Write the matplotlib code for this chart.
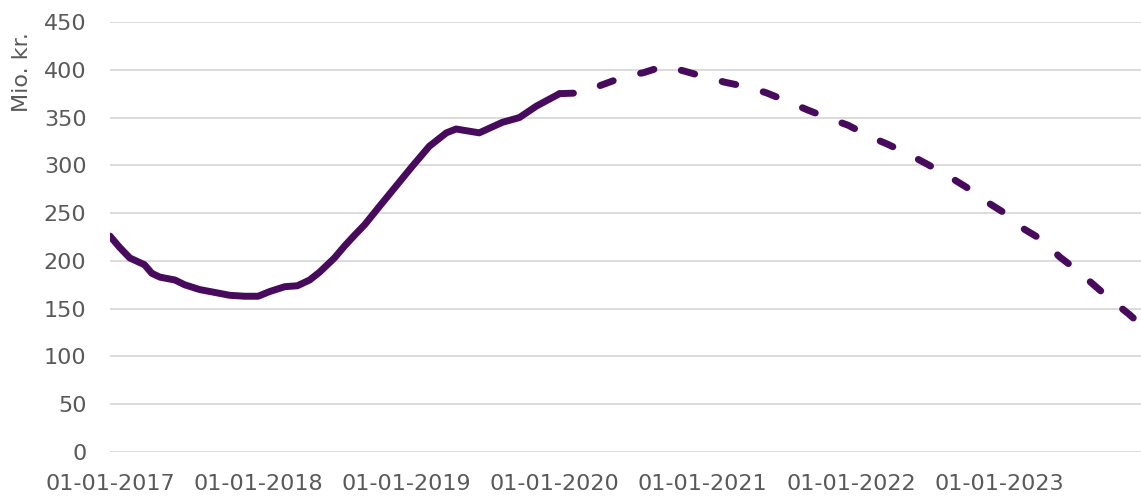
import numpy as np
import pandas as pd
import matplotlib.pyplot as plt
import matplotlib.dates as mdates


# actual (solid)
act_dates = ['2017-01-01', '2017-01-25', '2017-02-19', '2017-03-27', '2017-04-14',
             '2017-05-04', '2017-06-10', '2017-07-04', '2017-08-10', '2017-09-16',
             '2017-10-23', '2017-11-29', '2018-01-01', '2018-01-30', '2018-03-08',
             '2018-04-08', '2018-05-08', '2018-06-01', '2018-07-08', '2018-08-03',
             '2018-08-27', '2018-09-21', '2018-10-27', '2019-01-16', '2019-02-27',
             '2019-04-10', '2019-05-04', '2019-06-30', '2019-08-26', '2019-10-07',
             '2019-11-18', '2020-01-14']
act_vals = [226, 214, 203, 196, 187, 183, 180, 175, 170, 167,
            164, 163, 163, 168, 173, 174, 180, 188, 203, 216,
            227, 238, 257, 299, 320, 334, 338, 334, 345, 350,
            362, 375]

# forecast (dashed)
fc_dates = ['2020-01-14', '2020-03-20', '2020-04-20', '2020-06-23', '2020-08-08',
            '2020-09-29', '2020-11-13', '2021-01-11', '2021-02-24', '2021-04-21',
            '2021-06-06', '2021-08-03', '2021-09-16', '2021-11-09', '2021-12-25',
            '2022-02-17', '2022-04-02', '2022-05-26', '2022-07-09', '2022-09-01',
            '2022-10-13', '2022-12-01', '2023-01-15', '2023-03-05', '2023-04-17',
            '2023-05-31', '2023-07-10', '2023-08-25', '2023-10-05', '2023-11-18',
            '2023-12-17']
fc_vals = [375, 376, 383, 393, 397, 404, 399, 392, 387, 382,
           376, 366, 358, 349, 342, 330, 322, 311, 301, 288,
           277, 262, 250, 233, 222, 204, 191, 174, 159, 144,
           133]

tick_years = [2017, 2018, 2019, 2020, 2021, 2022, 2023]

col = '#470A5C'
txt = '#595959'

plt.rcParams['font.family'] = 'DejaVu Sans'

fig = plt.figure(figsize=(11.41, 5.0), dpi=100)
ax = fig.add_axes([110/1141, 48/500, 1 - 110/1141, 430/500])

ax.plot(pd.to_datetime(act_dates), act_vals, color=col, linewidth=5,
        solid_capstyle='round', solid_joinstyle='round')
ax.plot(pd.to_datetime(fc_dates), fc_vals, color=col, linewidth=5,
        linestyle=(0, (2.0, 4.1)), dash_capstyle='round')

ax.set_ylim(0, 450)
ax.set_yticks(np.arange(0, 451, 50))
ax.set_xlim(pd.Timestamp('2017-01-01'), pd.Timestamp('2023-12-17'))
ax.set_xticks([pd.Timestamp(f'{y}-01-01') for y in tick_years])
ax.xaxis.set_major_formatter(mdates.DateFormatter('%d-%m-%Y'))

ax.grid(axis='y', color='#D9D9D9', linewidth=1.3)
ax.set_axisbelow(True)
for s in ax.spines.values():
    s.set_visible(False)
ax.tick_params(axis='both', length=0, labelsize=16, labelcolor=txt)
ax.tick_params(axis='y', pad=17)
ax.tick_params(axis='x', pad=16)

fig.text(22/1141, 1 - 72/500, 'Mio. kr.', rotation=90, ha='center', va='center',
         fontsize=16, color=txt)

fig.savefig('out.png', dpi=100)
